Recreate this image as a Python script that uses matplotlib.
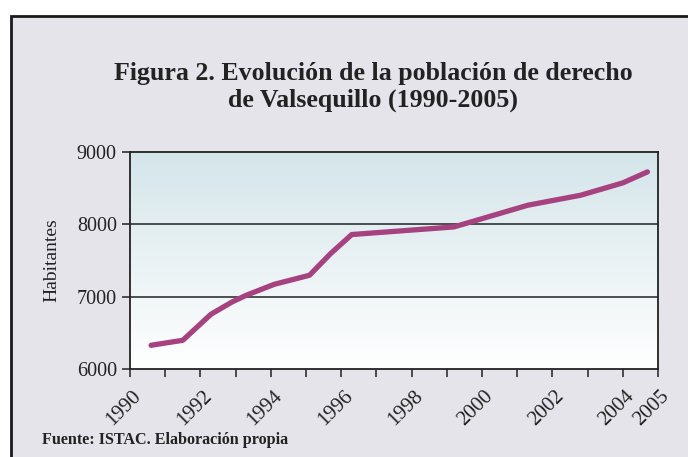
import matplotlib
matplotlib.use("Agg")
import matplotlib.pyplot as plt
import matplotlib.patches as patches
import matplotlib.transforms as mtransforms
import numpy as np

# poblacion de derecho
anios = [1990.6, 1991.5, 1992.3, 1992.9, 1993.3, 1994.1, 1995.1, 1995.7,
         1996.3, 1999.2, 2001.3, 2002.8, 2004.0, 2004.7]
habitantes = [6328, 6397, 6757, 6927, 7019, 7171, 7296, 7596,
              7859, 7964, 8264, 8402, 8573, 8725]
ticks_x = list(range(1990, 2006))
etiquetas_x = [str(a) if (a % 2 == 0 or a == 2005) else "" for a in ticks_x]
ticks_y = [6000, 7000, 8000, 9000]

plt.rcParams['font.family'] = ['Liberation Serif', 'DejaVu Serif']

fig = plt.figure(figsize=(6.88, 4.57), dpi=100)
fig.patch.set_facecolor('white')

# marco gris
fig.patches.append(patches.Rectangle((11/688, -0.1), 1.2, 1.1 - 16.5/457,
                                     transform=fig.transFigure, facecolor='#E4E4EA',
                                     edgecolor='#1a1a1a', linewidth=2, zorder=-5))

ax = fig.add_axes([130/688, 1 - 369/457, 528/688, 217/457])
ax.set_zorder(2)

# fondo degradado
grad = np.linspace(0, 1, 256).reshape(-1, 1)
top = np.array([212, 229, 234]) / 255.0
bot = np.array([255, 255, 255]) / 255.0
img = top[None, None, :] + (bot - top)[None, None, :] * grad[:, :, None]
ax.imshow(img, extent=[0, 1, 0, 1], transform=ax.transAxes, aspect='auto', zorder=0)

ax.plot(anios, habitantes, color='#A6427F', linewidth=3.8, solid_capstyle='round',
        solid_joinstyle='round', zorder=3)

ax.set_xlim(1990, 2005)
ax.set_ylim(6000, 9000)
ax.set_yticks(ticks_y)
ax.set_xticks(ticks_x)
ax.set_xticklabels(etiquetas_x, rotation=45, ha='center', va='top')
for y in [7000, 8000]:
    ax.axhline(y, color='#222222', linewidth=1.1, zorder=2)

ax.tick_params(axis='both', direction='out', length=6, width=1.1, colors='#222222',
               labelsize=14.5, labelcolor='#222222')
ax.tick_params(axis='x', pad=7, labelsize=15)
desplaza = mtransforms.ScaledTranslation(-0.06, 0, fig.dpi_scale_trans)
for lab in ax.get_xticklabels():
    lab.set_transform(lab.get_transform() + desplaza)
for s in ax.spines.values():
    s.set_color('#222222')
    s.set_linewidth(1.3)
    s.set_zorder(4)

ax.set_ylabel('Habitantes', fontsize=14, color='#222222', labelpad=12)

fig.text(373/688, 1 - 87/457, 'Figura 2. Evolución de la población de derecho\nde Valsequillo (1990-2005)',
         ha='center', va='center', fontsize=18.6, fontweight='bold', color='#222222',
         linespacing=1.22)
fig.text(42/688, 1 - 440/457, 'Fuente: ISTAC. Elaboración propia', ha='left', va='center',
         fontsize=11.6, fontweight='bold', color='#222222')

fig.savefig('out.png', dpi=100)
